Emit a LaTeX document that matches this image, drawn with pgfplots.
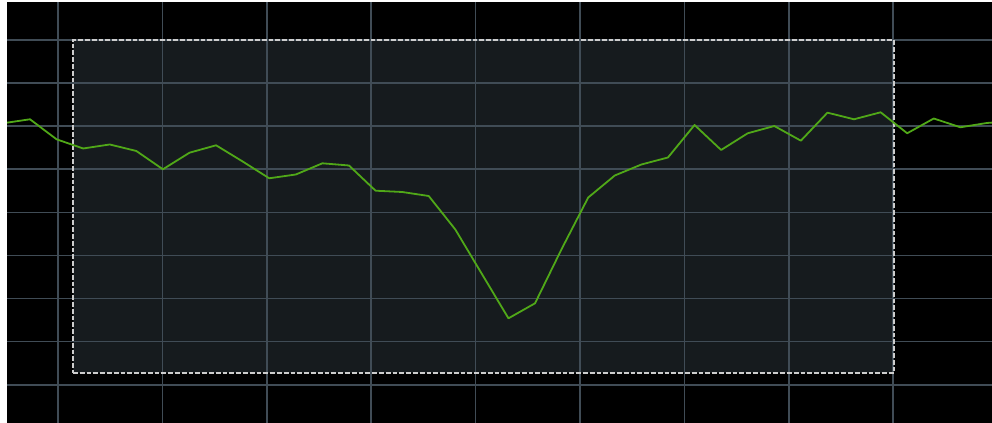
\documentclass[border=0pt]{standalone}
\usepackage{pgfplots}
\pgfplotsset{compat=1.18}
\definecolor{gridc}{RGB}{64,76,86}
\definecolor{areac}{RGB}{22,27,30}
\definecolor{linec}{RGB}{80,168,24}
\definecolor{dashc}{RGB}{205,205,205}
\begin{document}
\begin{tikzpicture}
\begin{axis}[
  at={(3.5pt,0pt)}, anchor=south west,
  scale only axis, width=492.5pt, height=210.5pt,
  xmin=0.1347, xmax=37.19, ymin=-0.889, ymax=8.883,
  xtick={2.054,5.981,9.909,13.836,17.764,21.692,25.619,29.547,33.475},
  ytick={0,1,2,3,4,5,6,7,8},
  xticklabels={}, yticklabels={},
  tick label style={overlay},
  major tick length=0pt,
  grid=major, grid style={gridc, line width=0.85pt},
  axis line style={draw=none},
  axis background/.style={fill=black},
  set layers, clip=true,
]
\addplot[on layer=axis background, draw=none, fill=areac] coordinates {
  (2.618,0.272) (33.51,0.272) (33.51,8) (2.618,8)} -- cycle;
\addplot[draw=dashc, line width=0.8pt, dash pattern=on 2.4pt off 1pt] coordinates {
  (2.618,0.272) (33.51,0.272) (33.51,8) (2.618,8) (2.618,0.272)};
\addplot[linec, line width=0.9pt, line join=round] coordinates {
(0,6.070) (1,6.161) (2,5.696) (3,5.483) (4,5.576) (5,5.425) (6,5.000)
(7,5.385) (8,5.557) (9,5.181) (10,4.791) (11,4.879) (12,5.139) (13,5.088)
(14,4.503) (15,4.473) (16,4.380) (17,3.603) (18,2.570) (19,1.541) (20,1.890)
(21,3.150) (22,4.345) (23,4.856) (24,5.111) (25,5.274) (26,6.028) (27,5.448)
(28,5.836) (29,6.005) (30,5.664) (31,6.314) (32,6.161) (33,6.323) (34,5.836)
(35,6.179) (36,5.975) (37,6.075) (38,6.121)
};
\end{axis}
\pgfresetboundingbox
\path[use as bounding box] (0,0) rectangle (496pt,211.5pt);
\end{tikzpicture}
\end{document}
